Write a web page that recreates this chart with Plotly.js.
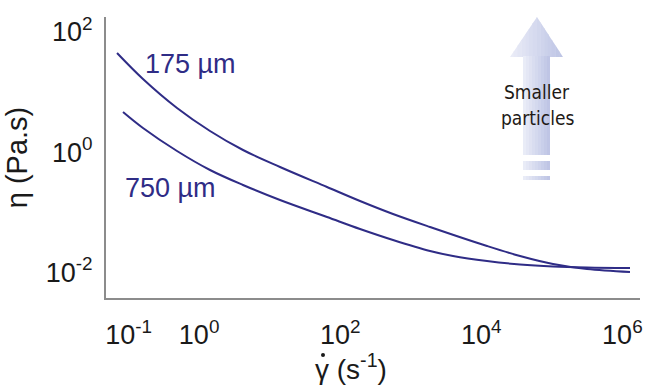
<!DOCTYPE html>
<html>
<head>
<meta charset="utf-8">
<script src="https://cdn.plot.ly/plotly-3.0.1.min.js"></script>
<style>html,body{margin:0;padding:0;background:#fff;}#chart{width:650px;height:392px;}</style>
</head>
<body>
<div id="chart"></div>
<script>
// Shear rate (s^-1) and viscosity (Pa.s)
const shear175 = [0.0686, 0.160, 0.486, 1.427, 4.19, 14.02, 65.0, 190.9, 560.6, 1876, 12060, 35400, 103900, 315300, 1283000];
const visc175  = [44.7, 16.5, 5.43, 2.247, 1.084, 0.5648, 0.2623, 0.1533, 0.0931, 0.0566, 0.0273, 0.0186, 0.01369, 0.01130, 0.01007];
const shear750 = [0.0834, 0.160, 0.486, 1.427, 4.19, 14.02, 65.0, 190.9, 560.6, 1876, 3975, 12060, 35400, 103900, 315300, 1283000];
const visc750  = [4.655, 2.520, 1.043, 0.5033, 0.2833, 0.1593, 0.0830, 0.0524, 0.03436, 0.02253, 0.01860, 0.01536, 0.01343, 0.01243, 0.01197, 0.01174];
const seriesNames = ["175 µm", "750 µm"];
const xTickVals = [0.1, 1, 100, 10000, 1000000];
const xTickText = ["10<sup>-1</sup>", "10<sup>0</sup>", "10<sup>2</sup>", "10<sup>4</sup>", "10<sup>6</sup>"];
const yTickVals = [0.01, 1, 100];
const yTickText = ["10<sup>-2</sup>", "10<sup>0</sup>", "10<sup>2</sup>"];

const lineColor = '#2f2c86';
const W = 650, H = 392;
const M = {l: 106, r: 10, t: 17, b: 94};
const PW = W - M.l - M.r, PH = H - M.t - M.b;
function px(x){ return (x - M.l) / PW; }
function py(y){ return (H - M.b - y) / PH; }

// Decorative gradient arrow ("Smaller particles")
function lerpColor(a, b, t){
  const pa = [parseInt(a.substr(1,2),16), parseInt(a.substr(3,2),16), parseInt(a.substr(5,2),16)];
  const pb = [parseInt(b.substr(1,2),16), parseInt(b.substr(3,2),16), parseInt(b.substr(5,2),16)];
  return 'rgb(' + pa.map((v,i)=>Math.round(v + (pb[i]-v)*t)).join(',') + ')';
}
const shapes = [];
const cLeft = '#eceef8', cRight = '#bcc3e4';
const headL = 510, headR = 563, tipX = 537, tipY = 17, baseY = 57;
function headTop(x){ return x <= tipX ? baseY - (x - headL) / (tipX - headL) * (baseY - tipY) : tipY + (x - tipX) / (headR - tipX) * (baseY - tipY); }
const nH = 14;
for (let i = 0; i < nH; i++) {
  const xa = headL + (headR - headL) * i / nH;
  const xb = headL + (headR - headL) * (i + 1) / nH + 0.4;
  const xbC = Math.min(xb, headR);
  let pts = [[xa, baseY], [xa, headTop(xa)]];
  if (xa < tipX && xbC > tipX) pts.push([tipX, tipY]);
  pts.push([xbC, headTop(xbC)], [xbC, baseY]);
  const path = 'M' + pts.map(p => px(p[0]).toFixed(5) + ',' + py(p[1]).toFixed(5)).join(' L') + ' Z';
  shapes.push({type: 'path', xref: 'paper', yref: 'paper', path: path, fillcolor: lerpColor(cLeft, cRight, (i + 0.5) / nH), line: {width: 0}, layer: 'below'});
}
const shaftL = 523, shaftR = 550;
const segs = [[56, 155], [161, 170], [176, 180]];
const nS = 9;
segs.forEach(s => {
  for (let i = 0; i < nS; i++) {
    const xa = shaftL + (shaftR - shaftL) * i / nS;
    const xb = Math.min(shaftL + (shaftR - shaftL) * (i + 1) / nS + 0.4, shaftR);
    shapes.push({type: 'rect', xref: 'paper', yref: 'paper', x0: px(xa), x1: px(xb), y0: py(s[1]), y1: py(s[0]), fillcolor: lerpColor(cLeft, cRight, (i + 0.5) / nS), line: {width: 0}, layer: 'below'});
  }
});
// dot over gamma (shear-rate symbol)
shapes.push({type: 'circle', xref: 'paper', yref: 'paper', x0: px(321), x1: px(325), y0: py(357), y1: py(353), fillcolor: '#1a1a1a', line: {width: 0}});

const traces = [
  {x: shear175, y: visc175, name: seriesNames[0], mode: 'lines', line: {color: lineColor, width: 2, shape: 'spline', smoothing: 1}},
  {x: shear750, y: visc750, name: seriesNames[1], mode: 'lines', line: {color: lineColor, width: 2, shape: 'spline', smoothing: 1}}
];

const baseFont = 'Liberation Sans, Arial, sans-serif';
const layout = {
  width: W, height: H,
  margin: M,
  paper_bgcolor: '#ffffff', plot_bgcolor: '#ffffff',
  showlegend: false,
  font: {family: baseFont, color: '#1a1a1a', size: 28},
  xaxis: {
    type: 'log', range: [-1.32, 6.25],
    tickvals: xTickVals, ticktext: xTickText,
    showline: true, linecolor: '#8c8c8c', linewidth: 2,
    showgrid: false, zeroline: false, ticks: '', ticklabelstandoff: 12,
    tickfont: {family: baseFont, size: 27, color: '#1a1a1a'}
  },
  yaxis: {
    type: 'log', range: [-2.43, 2.25],
    tickvals: yTickVals, ticktext: yTickText,
    showline: true, linecolor: '#8c8c8c', linewidth: 2,
    showgrid: false, zeroline: false, ticks: '', ticklabelstandoff: 6,
    tickfont: {family: baseFont, size: 27, color: '#1a1a1a'},
    title: {text: 'η (Pa.s)', font: {family: baseFont, size: 29, color: '#1a1a1a'}, standoff: 10}
  },
  shapes: shapes,
  annotations: [
    {xref: 'paper', yref: 'paper', x: px(313), y: py(367), text: 'γ (s<sup>-1</sup>)', showarrow: false, font: {family: baseFont, size: 28, color: '#1a1a1a'}, xanchor: 'left', yanchor: 'middle'},
    {xref: 'paper', yref: 'paper', x: px(190), y: py(64), text: seriesNames[0], showarrow: false, font: {family: baseFont, size: 27, color: lineColor}, xanchor: 'center', yanchor: 'middle'},
    {xref: 'paper', yref: 'paper', x: px(170), y: py(188), text: seriesNames[1], showarrow: false, font: {family: baseFont, size: 27, color: lineColor}, xanchor: 'center', yanchor: 'middle'},
    {xref: 'paper', yref: 'paper', x: px(537), y: py(92), text: 'Smaller', showarrow: false, font: {family: 'DejaVu Sans Condensed, Liberation Sans, sans-serif', size: 19, color: '#1e1a16'}, xanchor: 'center', yanchor: 'middle'},
    {xref: 'paper', yref: 'paper', x: px(537), y: py(118), text: 'particles', showarrow: false, font: {family: 'DejaVu Sans Condensed, Liberation Sans, sans-serif', size: 19, color: '#1e1a16'}, xanchor: 'center', yanchor: 'middle'}
  ]
};

Plotly.newPlot('chart', traces, layout, {staticPlot: true, displayModeBar: false});
</script>
</body>
</html>
